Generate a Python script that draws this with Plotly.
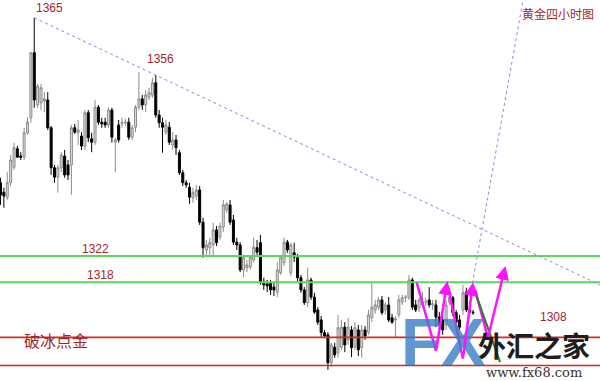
import plotly.graph_objects as go

# ---------------- data (gold, 4-hour bars) ----------------
open_ = [1335.3,1333.6,1332.7,1335.3,1338.1,1341.4,1340.1,1339.9,1344.3,1347.0,
         1358.7,1349.3,1349.7,1350.0,1350.2,1345.2,1338.0,1336.3,1338.0,1340.1,
         1338.5,1338.5,1345.2,1344.3,1343.7,1341.9,1347.9,1343.2,1342.6,1348.9,
         1346.2,1346.2,1345.7,1348.4,1342.6,1345.7,1345.9,1346.1,1346.2,1343.5,
         1345.3,1348.9,1350.4,1349.3,1350.7,1351.1,1353.3,1347.5,1346.1,1344.4,
         1345.3,1342.1,1343.0,1340.7,1337.1,1335.3,1334.5,1332.6,1332.9,1334.0,
         1328.2,1323.2,1323.6,1324.1,1326.8,1325.5,1327.3,1330.4,1331.3,1328.6,
         1324.6,1324.1,1319.6,1320.0,1320.1,1321.4,1323.6,1324.5,1317.4,1317.1,
         1317.3,1316.5,1315.6,1319.1,1320.9,1324.6,1319.1,1322.7,1321.8,1318.2,
         1316.0,1313.7,1317.8,1314.7,1312.4,1310.6,1308.3,1307.9,1302.9,1305.7,
         1304.7,1305.7,1309.3,1307.0,1308.8,1305.7,1308.8,1305.6,1308.8,1308.4,
         1311.0,1312.4,1312.9,1314.2,1312.4,1313.3,1311.0,1310.6,1311.5,1313.8,
         1314.6,1314.6,1317.8,1313.3,1312.8,1313.3,1313.8,1314.2,1313.3,1313.3,
         1311.1,1310.6,1309.7,1313.8,1314.6,1311.9,1310.6,1312.4,1315.5,1312.4,
         1312.0]
high = [1336.2,1334.4,1337.2,1340.3,1342.5,1341.9,1340.8,1345.2,1347.1,1358.8,
        1365.0,1353.1,1353.1,1351.6,1351.6,1345.5,1338.5,1338.5,1340.8,1341.2,
        1339.4,1345.7,1345.9,1346.6,1344.4,1348.4,1348.4,1344.3,1350.2,1349.3,
        1347.0,1347.0,1348.9,1348.8,1343.4,1346.6,1347.0,1346.8,1347.0,1345.7,
        1349.3,1355.2,1351.1,1352.0,1352.4,1354.2,1354.7,1348.4,1347.0,1346.6,
        1346.2,1344.4,1343.9,1341.2,1337.6,1335.8,1335.3,1334.4,1334.9,1334.7,
        1329.0,1325.0,1325.4,1328.1,1327.5,1328.1,1332.2,1331.8,1332.2,1329.5,
        1325.4,1324.6,1322.3,1321.4,1322.3,1325.4,1325.0,1325.9,1318.2,1317.8,
        1317.8,1317.3,1321.0,1322.3,1325.4,1325.0,1324.5,1324.5,1322.5,1318.7,
        1316.5,1320.0,1318.2,1315.5,1312.9,1311.3,1308.8,1308.4,1306.5,1306.5,
        1311.5,1310.6,1310.2,1311.0,1309.5,1310.2,1309.7,1309.7,1309.5,1312.4,
        1317.4,1314.2,1314.7,1314.9,1313.8,1314.7,1311.7,1311.3,1315.1,1315.1,
        1315.1,1318.7,1318.2,1314.2,1314.6,1315.6,1314.6,1316.5,1314.2,1314.2,
        1312.0,1311.5,1314.2,1314.7,1314.9,1312.4,1311.5,1316.9,1316.4,1313.1,
        1312.4]
low = [1331.3,1330.8,1332.2,1334.7,1337.6,1339.8,1339.4,1339.4,1343.9,1346.1,
       1348.8,1348.8,1348.4,1348.0,1344.8,1336.7,1335.3,1333.5,1337.2,1336.2,
       1335.8,1333.1,1344.1,1342.1,1341.2,1341.2,1342.6,1340.8,1342.1,1345.7,
       1345.2,1345.2,1345.2,1342.5,1337.2,1342.5,1345.2,1345.5,1343.0,1343.0,
       1344.4,1348.4,1348.4,1348.0,1350.2,1350.6,1347.0,1345.2,1340.7,1343.9,
       1342.1,1341.2,1340.3,1336.7,1334.7,1334.4,1331.5,1331.7,1332.2,1327.7,
       1321.8,1322.1,1322.3,1321.9,1323.9,1325.0,1326.4,1329.9,1327.7,1324.1,
       1323.2,1319.2,1318.3,1319.2,1319.6,1320.9,1322.3,1316.9,1316.0,1315.6,
       1315.1,1314.9,1314.7,1318.7,1320.3,1322.7,1318.5,1321.0,1317.6,1315.5,
       1313.3,1312.9,1314.2,1311.7,1309.7,1307.5,1307.4,1301.6,1302.1,1303.8,
       1303.8,1305.2,1304.8,1306.1,1303.9,1305.2,1304.1,1303.8,1307.0,1307.9,
       1310.2,1311.7,1312.4,1311.5,1311.5,1310.2,1309.9,1307.5,1311.0,1313.3,
       1313.8,1314.2,1312.4,1312.0,1312.0,1312.8,1313.1,1312.8,1312.4,1309.3,
       1308.8,1307.9,1308.8,1313.3,1311.3,1309.7,1308.8,1311.5,1312.0,1311.7,
       1311.5]
close = [1333.1,1332.9,1335.3,1339.4,1341.6,1339.9,1339.9,1344.3,1346.2,1358.7,
         1350.2,1352.7,1352.4,1350.4,1345.2,1338.0,1336.3,1338.0,1340.3,1336.7,
         1336.7,1345.2,1344.4,1344.8,1341.9,1347.9,1343.4,1342.6,1348.9,1346.2,
         1345.9,1345.7,1348.4,1343.5,1343.0,1343.0,1346.2,1346.2,1343.5,1345.2,
         1348.9,1350.4,1349.3,1351.1,1351.5,1353.3,1347.5,1346.1,1345.3,1345.7,
         1342.6,1343.0,1341.6,1337.1,1335.3,1334.9,1332.7,1333.5,1334.0,1328.2,
         1323.6,1324.1,1324.5,1326.8,1324.5,1327.5,1331.3,1331.5,1328.2,1324.6,
         1324.1,1319.6,1321.8,1320.5,1321.9,1323.7,1322.8,1317.4,1316.9,1316.7,
         1316.0,1316.0,1319.6,1321.9,1324.6,1323.2,1324.1,1321.9,1318.2,1316.0,
         1313.7,1317.8,1314.7,1312.0,1310.2,1308.3,1307.7,1302.9,1306.1,1304.3,
         1309.2,1309.3,1306.1,1309.3,1305.6,1309.2,1305.2,1308.8,1307.7,1311.5,
         1312.9,1313.3,1314.2,1311.9,1313.3,1310.6,1310.2,1310.8,1314.2,1314.6,
         1314.7,1317.8,1312.9,1312.4,1314.2,1313.8,1313.9,1313.3,1313.5,1311.1,
         1309.7,1308.8,1313.3,1314.6,1311.9,1310.2,1309.3,1315.5,1312.4,1312.0,
         1311.9]
bars = list(range(len(close)))

# horizontal levels
green_levels = [1322.1, 1317.4]
red_levels = [1307.45, 1302.4]

# dotted trend lines: (bar, price) endpoints
trend_lines = [((10, 1365.0), (177.6, 1316.9)),
               ((139.8, 1317.2), (154.8, 1368.2))]
# magenta zigzag: plain segments and arrow segments (tail -> head)
zig_lines = [((123.3, 1317.3), (129.0, 1305.0)),
             ((132.6, 1316.5), (137.0, 1303.6)),
             ((140.6, 1316.0), (144.4, 1307.4))]
zig_arrows = [((129.0, 1305.0), (132.4, 1317.6)),
              ((137.0, 1303.6), (140.0, 1317.4)),
              ((144.4, 1307.4), (149.6, 1320.3))]
green_seg = ((140.6, 1315.6), (148.0, 1303.0))

# text labels: (text, bar, price, size)
labels = [("1365", 14.4, 1366.8, 12),
          ("1356", 47.5, 1357.5, 12),
          ("1322", 28.0, 1323.4, 12),
          ("1318", 29.5, 1318.6, 12),
          ("破冰点金", 16.4, 1307.0, 16),
          ("黄金四小时图", 165.2, 1365.7, 12),
          ("1308", 163.8, 1311.2, 12)]

fig = go.Figure()
fig.add_trace(go.Candlestick(
    x=bars, open=open_, high=high, low=low, close=close,
    increasing=dict(line=dict(color="#8C8C8C", width=1), fillcolor="#DDDDDD"),
    decreasing=dict(line=dict(color="#000000", width=1), fillcolor="#000000"),
    whiskerwidth=0, hoverinfo="skip"))

shapes = []
for lv in green_levels:
    shapes.append(dict(type="line", xref="paper", x0=0, x1=1, yref="y", y0=lv, y1=lv,
                       line=dict(color="#5CD65C", width=2)))
for lv in red_levels:
    shapes.append(dict(type="line", xref="paper", x0=0, x1=1, yref="y", y0=lv, y1=lv,
                       line=dict(color="#E02424", width=1.6)))
for (a, b) in trend_lines:
    shapes.append(dict(type="line", xref="x", yref="y", x0=a[0], y0=a[1], x1=b[0], y1=b[1],
                       line=dict(color="#8A8AE0", width=1, dash="dot")))
for (a, b) in zig_lines:
    shapes.append(dict(type="line", xref="x", yref="y", x0=a[0], y0=a[1], x1=b[0], y1=b[1],
                       line=dict(color="#FF14FF", width=2.5)))
shapes.append(dict(type="line", xref="x", yref="y", x0=green_seg[0][0], y0=green_seg[0][1],
                   x1=green_seg[1][0], y1=green_seg[1][1], line=dict(color="#2E7D2E", width=2)))

annotations = []
for (t, bx, py, sz) in labels:
    fam = "Noto Sans CJK SC" if not t.isdigit() else "Arial, Liberation Sans"
    annotations.append(dict(x=bx, y=py, xref="x", yref="y", text=t, showarrow=False,
                            font=dict(family=fam, size=sz, color="#A0282D")))

# watermark
annotations.append(dict(x=131.2, y=1306.7, xref="x", yref="y", text="<b>FX</b>",
                        showarrow=False,
                        font=dict(family="Liberation Sans Narrow, Arial Narrow, Arial",
                                  size=66, color="rgba(58,128,200,0.82)")))
annotations.append(dict(x=158.1, y=1306.0, xref="x", yref="y", text="<b>外汇之家</b>",
                        showarrow=False,
                        font=dict(family="Noto Sans CJK SC", size=28, color="#1E1E1E")))
annotations.append(dict(x=158.1, y=1301.1, xref="x", yref="y", text="www.fx68.com",
                        showarrow=False,
                        font=dict(family="DejaVu Serif, Liberation Serif", size=13, color="#333333")))

for (a, b) in zig_arrows:
    annotations.append(dict(x=b[0], y=b[1], ax=a[0], ay=a[1], xref="x", yref="y",
                            axref="x", ayref="y", text="", showarrow=True,
                            arrowhead=2, arrowsize=1.1, arrowwidth=2.5, arrowcolor="#FF14FF"))

fig.update_layout(
    width=600, height=381, margin=dict(l=0, r=0, t=0, b=0),
    paper_bgcolor="white", plot_bgcolor="white", showlegend=False,
    shapes=shapes, annotations=annotations, hovermode=False, boxgap=0.15,
    xaxis=dict(range=[-0.15, 177.6], visible=False, rangeslider=dict(visible=False)),
    yaxis=dict(range=[1299.6, 1368.2], visible=False))

fig.write_html("out.html")
